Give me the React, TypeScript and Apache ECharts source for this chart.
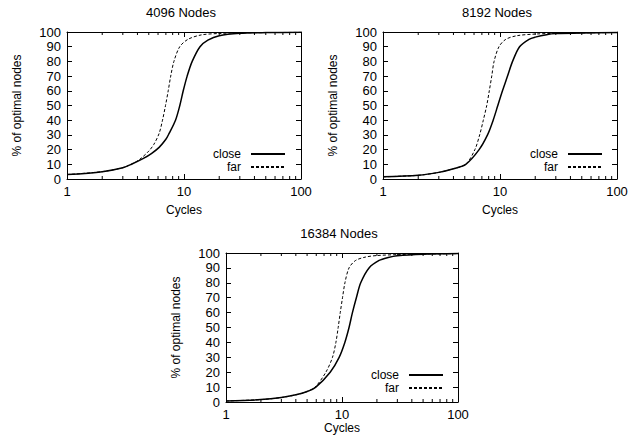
import React, { useEffect, useRef } from 'react';
import * as echarts from 'echarts';

// ---- data (cycles, % of optimal nodes) ----
const panelTitles = ['4096 Nodes', '8192 Nodes', '16384 Nodes'];
const seriesNames = ['close', 'far'];
const xTickValues = [1, 10, 100];
const yTickStep = 10;
const minorTickValues = [2, 3, 4, 5, 6, 7, 8, 9, 20, 30, 40, 50, 60, 70, 80, 90];

const closeX4096 = [1, 2, 3, 3.55, 4.5, 5.3, 6.13, 7, 7.46, 8.46, 9.21, 9.85, 10.64, 11.75, 13.7, 16, 20, 30, 50, 100];
const closeY4096 = [3, 5, 7.7, 10, 14, 17.5, 21.5, 27, 31, 40, 50, 60, 70, 80, 90, 94.5, 97.5, 99.1, 99.6, 99.8];
const farX4096 = [1, 2, 3, 3.55, 4.2, 5, 5.52, 6.13, 6.55, 6.95, 7.33, 7.7, 8.2, 9.2, 10.8, 14, 20, 30, 50, 100];
const farY4096 = [3, 5, 7.7, 10, 13.5, 19, 23.5, 31, 40, 50, 60, 70, 80, 90, 95, 98, 99, 99.4, 99.6, 99.8];

const closeX8192 = [1, 2, 3, 4, 5.1, 6.63, 7.82, 8.74, 9.58, 10.5, 11.6, 12.8, 14.7, 17.7, 20, 25, 30, 50, 100];
const closeY8192 = [1.5, 2.5, 4.5, 7, 10, 20, 30, 40, 50, 60, 70, 80, 90, 95, 96.5, 98.2, 98.9, 99.4, 99.7];
const farX8192 = [1, 2, 3, 4, 5.1, 6.1, 6.7, 7.2, 7.7, 8.1, 8.5, 8.9, 9.8, 11.2, 14, 20, 30, 50, 100];
const farY8192 = [1.5, 2.5, 4.5, 7, 10, 20, 30, 40, 50, 60, 70, 80, 90, 95, 97.5, 98.6, 99.1, 99.4, 99.7];

const closeX16384 = [1, 2, 3, 4, 5, 5.95, 7.91, 9.45, 10.58, 11.5, 12.3, 13.3, 14.5, 17.1, 20.9, 25, 30, 50, 100];
const closeY16384 = [0.7, 1.6, 3, 4.8, 7, 10, 20, 30, 40, 50, 60, 70, 80, 90, 95, 97, 98.2, 99.2, 99.6];
const farX16384 = [1, 2, 3, 4, 5, 5.87, 7.26, 8.28, 8.86, 9.27, 9.66, 10.1, 10.6, 11.5, 13.1, 16, 20, 30, 50, 100];
const farY16384 = [0.7, 1.6, 3, 4.8, 7, 10, 20, 30, 40, 50, 60, 70, 80, 90, 95, 97.3, 98.3, 98.9, 99.3, 99.6];

const panelCloseX = [closeX4096, closeX8192, closeX16384];
const panelCloseY = [closeY4096, closeY8192, closeY16384];
const panelFarX = [farX4096, farX8192, farX16384];
const panelFarY = [farY4096, farY8192, farY16384];

// ---- layout ----
const FONT = 'Liberation Sans, Arial, Helvetica, sans-serif';
const grids = [
  { left: 67, top: 32, width: 234, height: 147 },
  { left: 383, top: 32, width: 234, height: 147 },
  { left: 226, top: 253, width: 232, height: 149 },
];
const titleTops = [7, 7, 228];
const xNameGaps = [25, 25, 17];
const legendPos = [
  { right: 351, top: 148 },
  { right: 34, top: 148 },
  { right: 193, top: 369 },
];

function buildOption() {
  const text = { color: '#000', fontSize: 12, fontFamily: FONT };
  const tickText = { ...text, fontSize: 13 };
  const grid: any[] = [];
  const xAxis: any[] = [];
  const yAxis: any[] = [];
  const series: any[] = [];
  const title: any[] = [];
  const legend: any[] = [];

  grids.forEach((g, i) => {
    grid.push({ ...g, containLabel: false, show: false });
    const baseX = {
      type: 'log',
      logBase: 10,
      gridIndex: i,
      min: xTickValues[0],
      max: xTickValues[xTickValues.length - 1],
      splitLine: { show: false },
      axisLine: { show: true, onZero: false, lineStyle: { color: '#000', width: 1 } },
      axisTick: { show: true, inside: true, length: 5, lineStyle: { color: '#000' } },
    };
    xAxis.push({
      ...baseX,
      position: 'bottom',
      axisLabel: { ...tickText, margin: 6 },
      name: 'Cycles',
      nameLocation: 'middle',
      nameGap: xNameGaps[i],
      nameTextStyle: text,
    });
    xAxis.push({ ...baseX, position: 'top', axisLabel: { show: false } });

    const baseY = {
      type: 'value',
      gridIndex: i,
      min: 0,
      max: 100,
      interval: yTickStep,
      splitLine: { show: false },
      axisLine: { show: true, onZero: false, lineStyle: { color: '#000', width: 1 } },
      axisTick: { show: true, inside: true, length: 5, lineStyle: { color: '#000' } },
    };
    yAxis.push({
      ...baseY,
      position: 'left',
      axisLabel: { ...tickText, margin: 6 },
      name: '% of optimal nodes',
      nameLocation: 'middle',
      nameGap: 44,
      nameTextStyle: text,
    });
    yAxis.push({ ...baseY, position: 'right', axisLabel: { show: false } });

    const xi = i * 2;
    const yi = i * 2;
    series.push({
      type: 'line',
      name: seriesNames[0],
      xAxisIndex: xi,
      yAxisIndex: yi,
      data: panelCloseX[i].map((c, k) => [c, panelCloseY[i][k]]),
      symbol: 'none',
      smooth: 0.3,
      lineStyle: { color: '#000', width: 1.5 },
      itemStyle: { color: '#000' },
      z: 3,
    });
    series.push({
      type: 'line',
      name: seriesNames[1],
      xAxisIndex: xi,
      yAxisIndex: yi,
      data: panelFarX[i].map((c, k) => [c, panelFarY[i][k]]),
      symbol: 'none',
      smooth: 0.3,
      lineStyle: { color: '#000', width: 1, type: [3, 2] },
      itemStyle: { color: '#000' },
      z: 3,
    });
    series.push({
      type: 'custom',
      name: 'minorTicks' + i,
      xAxisIndex: xi,
      yAxisIndex: yi,
      silent: true,
      encode: { x: 0, y: 1 },
      data: minorTickValues.map((v) => [v, 0]),
      renderItem: (_p: any, api: any) => {
        const v = api.value(0);
        const b = api.coord([v, 0]);
        const t = api.coord([v, 100]);
        const st = { stroke: '#000', lineWidth: 1 };
        return {
          type: 'group',
          children: [
            { type: 'line', shape: { x1: b[0], y1: b[1], x2: b[0], y2: b[1] - 3 }, style: st },
            { type: 'line', shape: { x1: t[0], y1: t[1], x2: t[0], y2: t[1] + 3 }, style: st },
          ],
        };
      },
      z: 4,
    });

    title.push({
      text: panelTitles[i],
      left: g.left + g.width / 2 - 3,
      top: titleTops[i] - 1,
      textAlign: 'center',
      padding: 0,
      textStyle: { ...text, fontSize: 13, fontWeight: 'normal' },
    });

    legend.push({
      data: seriesNames,
      orient: 'vertical',
      right: legendPos[i].right,
      top: legendPos[i].top,
      align: 'right',
      itemWidth: 34,
      itemHeight: 12,
      itemGap: 1,
      padding: 0,
      selectedMode: false,
      itemStyle: { opacity: 0, borderWidth: 0 },
      textStyle: { ...text, lineHeight: 12, padding: [0, 5, 0, 0] },
    });
  });

  return {
    animation: false,
    backgroundColor: '#fff',
    title,
    legend,
    grid,
    xAxis,
    yAxis,
    series,
  };
}

export default function App() {
  const ref = useRef<HTMLDivElement>(null);
  useEffect(() => {
    if (!ref.current) return;
    const chart = echarts.init(ref.current, undefined, { renderer: 'svg' });
    chart.setOption(buildOption() as any);
    return () => chart.dispose();
  }, []);
  return (
    <div
      ref={ref}
      style={{ position: 'absolute', left: 0, top: 0, width: 637, height: 444 }}
    />
  );
}
